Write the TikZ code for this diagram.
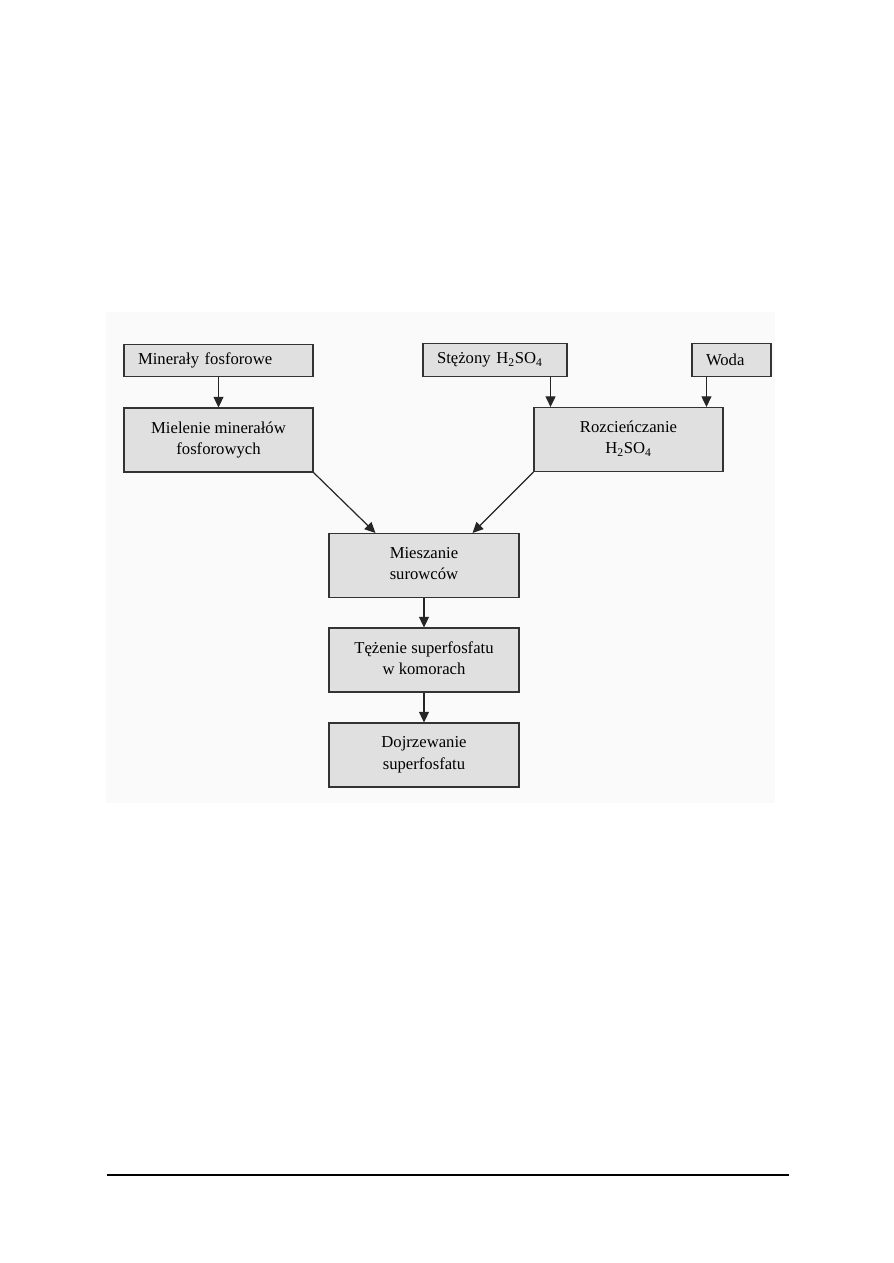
\documentclass[tikz,border=0pt]{standalone}
\usepackage{fontspec}
\setmainfont{Liberation Serif}
\usetikzlibrary{arrows.meta}
\begin{document}
\begin{tikzpicture}[
    x=0.75pt, y=-0.75pt,
    stepbox/.style={rectangle, draw=black!80, fill=black!12, line width=0.8pt,
      minimum width=142.5pt, minimum height=48pt, align=center,
      font=\fontsize{12.5}{16}\selectfont},
    source/.style={rectangle, draw=black!80, fill=black!12, line width=0.8pt,
      minimum height=24.5pt, align=left, inner xsep=10.5pt,
      font=\fontsize{12.5}{16}\selectfont},
    >={Triangle[length=8pt,width=7.5pt]}, line width=0.9pt
  ]
  \useasboundingbox (0,0) rectangle (893,1263);
  \fill[black!2] (106,312) rectangle (775,803);
  \node[source, text width=120.75pt] (mineraly) at (218.5,360.5) {Minerały fosforowe};
  \node[source, text width=87pt] (stezony) at (495,360) {Stężony H\textsubscript{2}SO\textsubscript{4}};
  \node[source, text width=38.25pt] (woda) at (731.5,360) {Woda};
  \node[stepbox, minimum width=141.75pt, text depth=3pt] (mielenie) at (218.5,440) {Mielenie minerałów\\fosforowych};
  \node[stepbox, minimum width=141.75pt, text depth=3pt] (rozc) at (628.5,439.5) {Rozcieńczanie\\H\textsubscript{2}SO\textsubscript{4}};
  \node[stepbox, text depth=3pt] (mieszanie) at (424,565.5) {Mieszanie\\surowców};
  \node[stepbox, text depth=3pt] (tezenie) at (424,660) {Tężenie superfosfatu\\w komorach};
  \node[stepbox, text depth=3pt] (dojrz) at (424,755) {Dojrzewanie\\superfosfatu};
  \draw[->, black!85] (mineraly) -- (mielenie);
  \draw[->, black!85] ([xshift=-12.75pt]stezony.south east) -- ([xshift=-12.75pt]stezony.south east |- rozc.north);
  \draw[->, black!85] ([xshift=11.25pt]woda.south west) -- ([xshift=11.25pt]woda.south west |- rozc.north);
  \draw[->, black!85] (mielenie.south east) -- ([xshift=35.25pt]mieszanie.north west);
  \draw[->, black!85] (rozc.south west) -- ([xshift=-35.25pt]mieszanie.north east);
  \draw[->, black!85] (mieszanie) -- (tezenie);
  \draw[->, black!85] (tezenie) -- (dojrz);
  \draw[line width=1.1pt] (107,1175) -- (789,1175);
\end{tikzpicture}
\end{document}
